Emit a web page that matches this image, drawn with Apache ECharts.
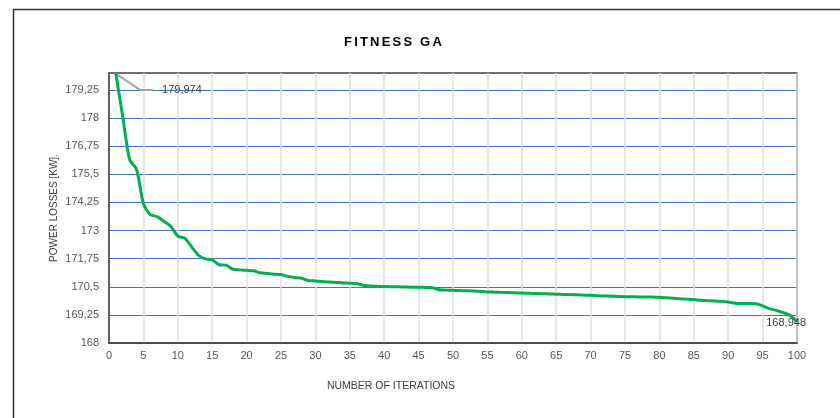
<!DOCTYPE html>
<html>
<head>
<meta charset="utf-8">
<script src="https://cdn.jsdelivr.net/npm/echarts@6/dist/echarts.min.js"></script>
<style>
html,body{margin:0;padding:0;background:#fff;}
#chart{width:840px;height:418px;}
</style>
</head>
<body>
<div id="chart"></div>
<script>
const titleText = 'FITNESS GA';
const xAxisName = 'NUMBER OF ITERATIONS';
const yAxisName = 'POWER LOSSES [KW].';
const iterations = [1,2,3,4,5,6,7,8,9,10,11,12,13,14,15,16,17,18,19,20,21,22,23,24,25,26,27,28,29,30,31,32,33,34,35,36,37,38,39,40,41,42,43,44,45,46,47,48,49,50,51,52,53,54,55,56,57,58,59,60,61,62,63,64,65,66,67,68,69,70,71,72,73,74,75,76,77,78,79,80,81,82,83,84,85,86,87,88,89,90,91,92,93,94,95,96,97,98,99,100];
const fitness = [179.974,178.05,176.15,175.72,174.2,173.7,173.62,173.4,173.18,172.75,
172.66,172.28,171.9,171.74,171.69,171.48,171.46,171.28,171.25,171.23,
171.21,171.12,171.09,171.06,171.04,170.96,170.91,170.88,170.77,170.76,
170.73,170.71,170.69,170.67,170.66,170.64,170.56,170.53,170.52,170.51,
170.5,170.5,170.49,170.48,170.48,170.47,170.46,170.37,170.35,170.34,
170.33,170.32,170.31,170.29,170.27,170.26,170.25,170.24,170.23,170.22,
170.21,170.2,170.19,170.18,170.17,170.16,170.15,170.14,170.13,170.12,
170.1,170.09,170.08,170.07,170.06,170.06,170.05,170.05,170.04,170.03,
170.01,169.99,169.97,169.95,169.93,169.9,169.88,169.87,169.85,169.82,
169.77,169.76,169.76,169.75,169.65,169.53,169.45,169.35,169.22,168.948];
const firstLabel = '179,974';
const lastLabel = '168,948';
// leader line of the first data label (data coordinates)
const calloutX = [1, 4.5, 6.4];
const calloutY = [179.974, 179.25, 179.25];

// letter-spaced title (canvas letterSpacing applied only to the title string)
(function () {
  const proto = CanvasRenderingContext2D.prototype;
  const origFill = proto.fillText;
  proto.fillText = function (t, x, y, w) {
    if (t === titleText && 'letterSpacing' in this) {
      const prev = this.letterSpacing;
      this.letterSpacing = '2.2px';
      const r = w === undefined ? origFill.call(this, t, x, y) : origFill.call(this, t, x, y, w);
      this.letterSpacing = prev;
      return r;
    }
    return w === undefined ? origFill.call(this, t, x, y) : origFill.call(this, t, x, y, w);
  };
})();

const fmt = v => String(v).replace('.', ',');
const lineData = iterations.map((x, i) => {
  const item = { value: [x, fitness[i]] };
  if (i === iterations.length - 1) {
    item.label = { show: true, formatter: lastLabel, position: 'left', offset: [14, 1] };
  }
  return item;
});
const calloutData = calloutX.map((x, i) => {
  const item = { value: [x, calloutY[i]] };
  if (i === calloutX.length - 1) {
    item.label = { show: true, formatter: firstLabel, position: 'right', distance: 9 };
  }
  return item;
});

const chart = echarts.init(document.getElementById('chart'));
chart.setOption({
  animation: false,
  textStyle: { fontFamily: 'Liberation Sans, Arial, sans-serif' },
  title: {
    text: titleText,
    left: 344, top: 36, padding: 0,
    textStyle: { fontSize: 13, fontWeight: 'bold', color: '#000', fontFamily: 'Liberation Sans, Arial, sans-serif' }
  },
  graphic: [{
    type: 'rect', left: 11, top: 7, silent: true,
    shape: { width: 900, height: 500 },
    style: { fill: 'none', stroke: '#333', lineWidth: 1.5 }
  }],
  grid: { left: 109, right: 43, top: 73, bottom: 75, show: true, borderColor: '#404040', borderWidth: 1.5 },
  xAxis: {
    type: 'value', min: 0, max: 100, interval: 5,
    name: xAxisName, nameLocation: 'middle', nameGap: 38,
    nameTextStyle: { fontSize: 10.5, color: '#404040', padding: [0, 124, 0, 0] },
    axisLine: { show: true, lineStyle: { color: '#404040', width: 1.5 } },
    axisTick: { show: false },
    axisLabel: { fontSize: 11, color: '#595959', margin: 7 },
    splitLine: { show: true, lineStyle: { color: '#dedede', width: 1.5 } }
  },
  yAxis: {
    type: 'value', min: 168, max: 180, interval: 1.25,
    name: yAxisName, nameLocation: 'middle', nameGap: 50, nameRotate: 90,
    nameMoveOverlap: false,
    nameTextStyle: { fontSize: 10, color: '#404040' },
    axisLine: { show: true, lineStyle: { color: '#404040', width: 1.5 } },
    axisTick: { show: false },
    axisLabel: { fontSize: 11, color: '#595959', margin: 10, showMaxLabel: false, formatter: fmt },
    splitLine: { show: true, lineStyle: { color: '#4472c4', width: 1 } }
  },
  series: [{
    type: 'line', data: calloutData, showSymbol: true, symbolSize: 0,
    lineStyle: { color: '#a6a6a6', width: 2 },
    label: { fontSize: 11, color: '#404040' },
    z: 3
  }, {
    type: 'line', data: lineData, smooth: 0.25, showSymbol: true, symbolSize: 0,
    lineStyle: { color: '#00b050', width: 3 },
    itemStyle: { color: '#00b050' },
    label: { fontSize: 11, color: '#404040' },
    z: 4
  }]
});
</script>
</body>
</html>
